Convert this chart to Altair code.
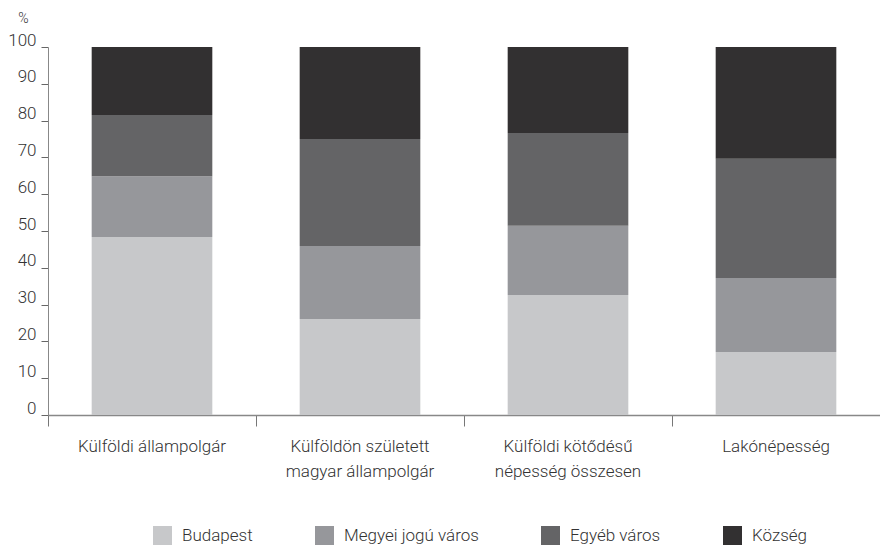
import altair as alt
import pandas as pd

categories = ["Külföldi állampolgár", "Külföldön született\nmagyar állampolgár",
              "Külföldi kötődésű\nnépesség összesen", "Lakónépesség"]
series = ["Budapest", "Megyei jogú város", "Egyéb város", "Község"]
colors = ["#c7c8ca", "#96979b", "#646466", "#323031"]

budapest = [48.4, 26.1, 32.6, 17.1]
megyei = [16.5, 19.8, 18.8, 20.1]
egyeb = [16.6, 29.1, 25.2, 32.4]
kozseg = [18.5, 25.0, 23.4, 30.4]

values = [budapest, megyei, egyeb, kozseg]
rows = []
for si, s in enumerate(series):
    for ci, c in enumerate(categories):
        rows.append({"cat": c, "series": s, "value": values[si][ci], "ord": si})
df = pd.DataFrame(rows)

FONT = "Roboto"
P_IN = 0.42
P_OUT = 0.21

chart = alt.Chart(df).mark_bar().encode(
    x=alt.X("cat:N", sort=categories,
            scale=alt.Scale(paddingInner=P_IN, paddingOuter=P_OUT),
            axis=alt.Axis(title=None, labelAngle=0, bandPosition=-P_OUT / (1 - P_IN),
                          ticks=True, tickSize=11,
                          tickColor="#777777", domainColor="#888888", domainWidth=1.5,
                          labelExpr="split(datum.label, '\\n')", labelLineHeight=25,
                          labelFontSize=17, labelPadding=12, labelFont=FONT,
                          labelFontWeight=300, labelColor="#333333", labelBaseline="top")),
    y=alt.Y("value:Q", stack="zero",
            scale=alt.Scale(domain=[0, 100], nice=False),
            axis=alt.Axis(values=list(range(0, 101, 10)), title="%", titleAngle=0,
                          titleX=-25, titleY=-29, titleAlign="center", titleBaseline="middle",
                          titleFont=FONT, titleFontWeight=300, titleFontSize=14, titleColor="#333333",
                          grid=False, tickSize=7, tickColor="#666666", domainColor="#888888",
                          labelFont=FONT, labelFontWeight=300, labelFontSize=17,
                          labelColor="#333333", labelPadding=5, labelBaseline="alphabetic",
                          labelOffset=-2)),
    color=alt.Color("series:N", sort=series,
                    scale=alt.Scale(domain=series, range=colors),
                    legend=alt.Legend(title=None, orient="none", direction="horizontal",
                                      legendX=105, legendY=479, symbolType="square",
                                      symbolSize=361, symbolStrokeWidth=0, labelFont=FONT,
                                      labelFontWeight=300, labelFontSize=17, labelColor="#333333",
                                      labelOffset=10, columnPadding=62, columns=4)),
    order=alt.Order("ord:Q", sort="ascending"),
).properties(
    width=832, height=368,
    autosize=alt.AutoSizeParams(type="none"),
    padding={"left": 40, "top": 39, "right": 0, "bottom": 132},
).configure_view(stroke=None)

chart.save("out.html", embed_options={"renderer": "svg", "actions": False})
